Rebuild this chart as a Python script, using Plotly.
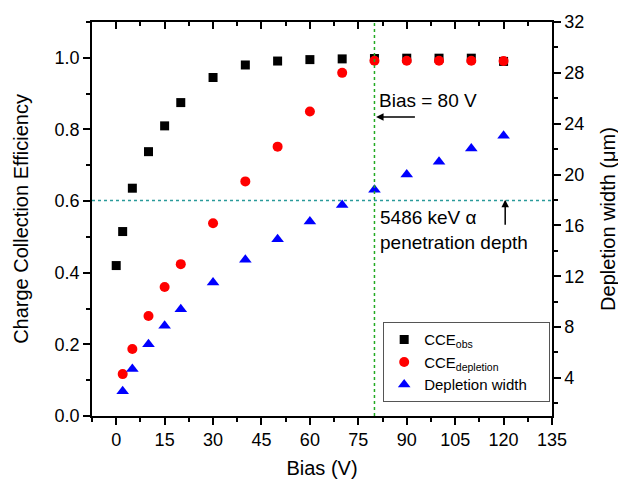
import plotly.graph_objects as go

bias = [0, 2, 5, 10, 15, 20, 30, 40, 50, 60, 70, 80, 90, 100, 110, 120]
cce_obs = [0.42, 0.515, 0.636, 0.738, 0.81, 0.875, 0.945, 0.98, 0.991, 0.995,
           0.997, 0.998, 0.999, 0.999, 0.999, 0.99]

bias_dep = [2, 5, 10, 15, 20, 30, 40, 50, 60, 70, 80, 90, 100, 110, 120]
cce_dep = [0.117, 0.187, 0.279, 0.36, 0.424, 0.538, 0.655, 0.752, 0.85, 0.958,
           0.992, 0.992, 0.992, 0.992, 0.991]
dep_width = [2.95, 4.7, 6.65, 8.1, 9.4, 11.5, 13.3, 14.9, 16.3, 17.6,
             18.8, 20.0, 21.0, 22.05, 23.05]

x_ticks = [0, 15, 30, 45, 60, 75, 90, 105, 120, 135]
font = "Liberation Sans, Arial, sans-serif"

fig = go.Figure()
fig.add_trace(go.Scatter(x=bias, y=cce_obs, mode="markers", name="CCE<sub>obs</sub>",
                         marker=dict(symbol="square", size=9, color="black")))
fig.add_trace(go.Scatter(x=bias_dep, y=cce_dep, mode="markers", name="CCE<sub>depletion</sub>",
                         marker=dict(symbol="circle", size=10, color="red")))
fig.add_trace(go.Scatter(x=bias_dep, y=dep_width, mode="markers",
                         name="Depletion width\u00a0\u00a0\u00a0\u00a0",
                         yaxis="y2",
                         marker=dict(symbol="triangle-up", size=11, color="blue")))
# invisible trace to pin the top axis
fig.add_trace(go.Scatter(x=[0], y=[0], xaxis="x2", mode="markers",
                         marker=dict(opacity=0), showlegend=False, hoverinfo="skip"))

# reference lines
fig.add_shape(type="line", xref="x", yref="paper", x0=80, x1=80, y0=0, y1=1,
              line=dict(color="#22aa22", width=1.5, dash="dot"))
fig.add_shape(type="line", xref="paper", yref="y", x0=0, x1=1, y0=0.6017, y1=0.6017,
              line=dict(color="#2a9a9a", width=1.5, dash="dot"))

fig.add_annotation(x=80.5, y=0.835, xref="x", yref="y", ax=93, ay=0.835, axref="x", ayref="y",
                   text="", showarrow=True, arrowhead=2, arrowsize=1, arrowwidth=1.5,
                   arrowcolor="black")
fig.add_annotation(x=80.7, y=0.88, xref="x", yref="y", text="Bias = 80 V", showarrow=False,
                   xanchor="left", font=dict(size=19, color="black", family=font))
fig.add_annotation(x=120.5, y=0.604, xref="x", yref="y", ax=120.5, ay=0.53, axref="x", ayref="y",
                   text="", showarrow=True, arrowhead=2, arrowsize=1, arrowwidth=1.5,
                   arrowcolor="black")
fig.add_annotation(x=81, y=0.59, xref="x", yref="y", text="5486 keV α<br>penetration depth",
                   showarrow=False, xanchor="left", yanchor="top", align="left",
                   font=dict(size=19, color="black", family=font))

axis_common = dict(showline=True, linecolor="black", linewidth=1.5, ticks="outside",
                   ticklen=7, tickwidth=1.5, tickcolor="black", showgrid=False, zeroline=False,
                   automargin=False,
                   tickfont=dict(size=18, family=font, color="black"))

# the page body adds ~8px offset, margins compensate for it
fig.update_layout(
    width=626, height=483,
    margin=dict(l=84, r=82, t=14, b=75),
    plot_bgcolor="white", paper_bgcolor="white",
    font=dict(family=font, color="black"),
    xaxis=dict(range=[-7.5, 135], tickvals=x_ticks,
               title=dict(text="Bias (V)", font=dict(size=20), standoff=12),
               minor=dict(dtick=7.5, tick0=0, ticks="outside", ticklen=4, tickwidth=1.5,
                          tickcolor="black"),
               **axis_common),
    xaxis2=dict(range=[-7.5, 135], overlaying="x", side="top", tickvals=x_ticks,
                showticklabels=False, showline=True, linecolor="black", linewidth=1.5,
                ticks="inside", ticklen=7, tickwidth=1.5, tickcolor="black", showgrid=False,
                zeroline=False, automargin=False,
                minor=dict(dtick=7.5, tick0=0, ticks="inside", ticklen=4, tickwidth=1.5,
                           tickcolor="black")),
    yaxis=dict(range=[0, 1.1], dtick=0.2, tickformat=".1f",
               title=dict(text="Charge Collection Efficiency", font=dict(size=20), standoff=21),
               minor=dict(dtick=0.1, ticks="outside", ticklen=4, tickwidth=1.5,
                          tickcolor="black"),
               **axis_common),
    yaxis2=dict(range=[1, 32], overlaying="y", side="right", tick0=4, dtick=4,
                title=dict(text="Depletion width (μm)", font=dict(size=20), standoff=18),
                minor=dict(dtick=2, tick0=0, ticks="outside", ticklen=4, tickwidth=1.5,
                           tickcolor="black"),
                **axis_common),
    legend=dict(x=0.633, y=0.035, xanchor="left", yanchor="bottom",
                bordercolor="#555555", borderwidth=1, bgcolor="white",
                font=dict(size=15, family=font), itemwidth=30, tracegroupgap=0),
)

fig.write_html("out.html")
